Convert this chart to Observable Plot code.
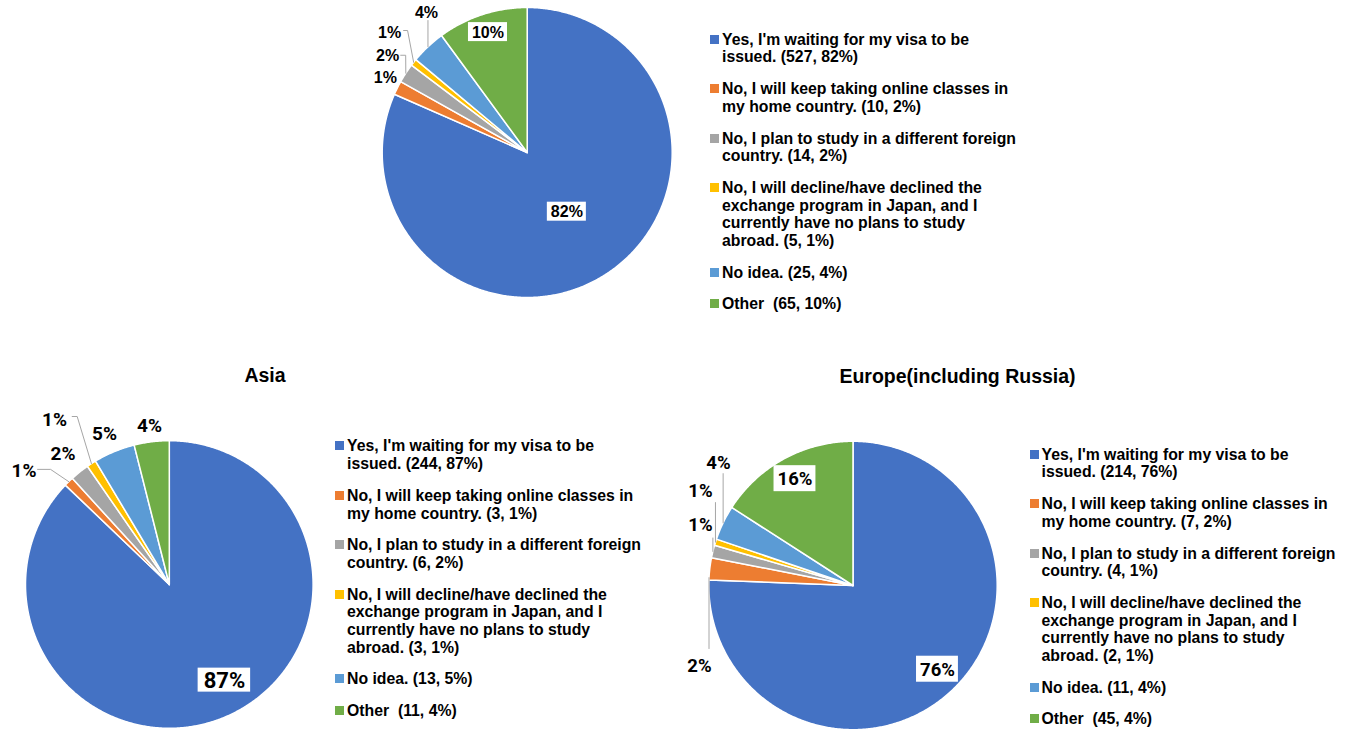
<!DOCTYPE html>
<html><head><meta charset="utf-8">
<script src="https://cdn.jsdelivr.net/npm/d3@7"></script>
<script src="https://cdn.jsdelivr.net/npm/@observablehq/plot@0.6"></script>
<style>
body{margin:0;background:#fff;}
#page{position:relative;width:1349px;height:733px;overflow:hidden;font-family:"Liberation Sans",Arial,sans-serif;color:#000;}
.pie{position:absolute;}
.legend{position:absolute;width:306px;font-weight:bold;font-size:15.8px;line-height:17.7px;}
.legend .item{position:relative;padding-left:12px;margin-bottom:14px;}
.legend .sw{position:absolute;left:0;top:4px;width:9px;height:9px;}
.title{position:absolute;font-weight:bold;font-size:19.5px;line-height:22px;transform:translateX(-50%);white-space:nowrap;}
</style>
</head><body>
<div id="page"></div>
<script>
// ---------- data ----------
const categories = [
  "Yes, I'm waiting for my visa to be issued.",
  "No, I will keep taking online classes in my home country.",
  "No, I plan to study in a different foreign country.",
  "No, I will decline/have declined the exchange program in Japan, and I currently have no plans to study abroad.",
  "No idea.",
  "Other\u00a0"
];
const colors = ["#4472C4", "#ED7D31", "#A5A5A5", "#FFC000", "#5B9BD5", "#70AD47"];

const allCounts = [527, 10, 14, 5, 25, 65];
const allLegendPct = ["82%", "2%", "2%", "1%", "4%", "10%"];
const allSliceLabels = ["82%", "1%", "2%", "1%", "4%", "10%"];

const asiaTitle = "Asia";
const asiaCounts = [244, 3, 6, 3, 13, 11];
const asiaLegendPct = ["87%", "1%", "2%", "1%", "5%", "4%"];
const asiaSliceLabels = ["87%", "1%", "2%", "1%", "5%", "4%"];

const europeTitle = "Europe(including Russia)";
const europeCounts = [214, 7, 4, 2, 11, 45];
const europeLegendPct = ["76%", "2%", "1%", "1%", "4%", "4%"];
const europeSliceLabels = ["76%", "2%", "1%", "1%", "4%", "16%"];

// ---------- helpers ----------
const page = document.getElementById("page");
const cnv = document.createElement("canvas").getContext("2d");
function textW(t, font) { cnv.font = font; return cnv.measureText(t).width; }

function piePlot(o) {
  const {counts, labels, cfg, R, cx, cy, width, height, left, top, family, size, bigSize, padX, boxH} = o;
  const arcs = d3.pie().sort(null).value(d => d)(counts);
  const slices = [];
  arcs.forEach((a, i) => {
    const n = Math.max(3, Math.ceil((a.endAngle - a.startAngle) / 0.008));
    slices.push({cat: categories[i], x: 0, y: 0});
    for (let j = 0; j <= n; j++) {
      const t = a.startAngle + (a.endAngle - a.startAngle) * j / n;
      slices.push({cat: categories[i], x: Math.sin(t), y: Math.cos(t)});
    }
    slices.push({cat: categories[i], x: 0, y: 0});
  });
  const toData = (px, py) => ({x: (px - cx) / R, y: (cy - py) / R});
  const texts = [], boxes = [], leaders = [];
  arcs.forEach((a, i) => {
    const c = cfg[i];
    const mid = (a.startAngle + a.endAngle) / 2;
    const lx = cx + Math.sin(mid) * c.r * R + (c.dx || 0);
    const ly = cy - Math.cos(mid) * c.r * R + (c.dy || 0);
    const fs = c.big ? bigSize : size;
    const p = toData(lx, ly);
    texts.push({...p, text: labels[i], big: !!c.big});
    if (c.box) {
      const w = textW(labels[i], `bold ${fs}px ${family}`) + 2 * (c.big ? padX + 1.5 : padX);
      const h = c.big ? boxH + 3 : boxH;
      const p1 = toData(lx - w / 2, ly - h / 2 - 0.5), p2 = toData(lx + w / 2, ly + h / 2 - 0.5);
      boxes.push({x1: p1.x, x2: p2.x, y1: p1.y, y2: p2.y});
    }
    if (c.leader) {
      const t = c.t == null ? 0.5 : c.t;
      const an = a.startAngle + (a.endAngle - a.startAngle) * t;
      const ax = cx + Math.sin(an) * R, ay = cy - Math.cos(an) * R;
      let pts;
      if (c.leader.type === "h") {
        pts = [[ax, ay], [lx + c.leader.e1, ly + c.leader.yo], [lx + c.leader.e2, ly + c.leader.yo]];
      } else {
        pts = [[ax, ay], [ax, ly + c.leader.end]];
      }
      pts.forEach(([px, py]) => leaders.push({k: i, ...toData(px, py)}));
    }
  });
  const big = texts.filter(d => d.big);
  const small = texts.filter(d => !d.big);
  const plot = Plot.plot({
    width, height,
    margin: 0,
    style: {background: "transparent", overflow: "visible"},
    x: {domain: [-1, 1], range: [cx - R, cx + R], axis: null},
    y: {domain: [-1, 1], range: [cy + R, cy - R], axis: null},
    color: {domain: categories, range: colors},
    marks: [
      Plot.line(slices, {x: "x", y: "y", z: "cat", fill: "cat", stroke: "white", strokeWidth: 1.5, strokeLinejoin: "round"}),
      Plot.line(leaders, {x: "x", y: "y", z: "k", stroke: "#A6A6A6", strokeWidth: 1}),
      Plot.rect(boxes, {x1: "x1", x2: "x2", y1: "y1", y2: "y2", fill: "white"}),
      Plot.text(small, {x: "x", y: "y", text: "text", fontFamily: family, fontSize: size, fontWeight: "bold", fill: "black"}),
      Plot.text(big, {x: "x", y: "y", text: "text", fontFamily: family, fontSize: bigSize, fontWeight: "bold", fill: "black"})
    ]
  });
  plot.classList.add("pie");
  plot.style.left = left + "px";
  plot.style.top = top + "px";
  page.appendChild(plot);
}

function legend(counts, pcts, left, top) {
  const div = document.createElement("div");
  div.className = "legend";
  div.style.left = left + "px";
  div.style.top = top + "px";
  categories.forEach((c, i) => {
    const it = document.createElement("div");
    it.className = "item";
    const sw = document.createElement("span");
    sw.className = "sw";
    sw.style.background = colors[i];
    it.appendChild(sw);
    it.appendChild(document.createTextNode(`${c} (${counts[i]}, ${pcts[i]})`));
    div.appendChild(it);
  });
  page.appendChild(div);
}

function title(t, x, top) {
  const d = document.createElement("div");
  d.className = "title";
  d.style.left = x + "px";
  d.style.top = top + "px";
  d.textContent = t;
  page.appendChild(d);
}

// ---------- overall pie ----------
piePlot({
  counts: allCounts, labels: allSliceLabels, R: 145, cx: 186.7, cy: 152, width: 360, height: 310, left: 340, top: 0,
  family: '"Liberation Sans", Arial, sans-serif', size: 16, bigSize: 16, padX: 3.5, boxH: 19,
  cfg: [
    {r: 0.5, dx: 0, dy: -1, box: true},
    {r: 1.1, dx: 1, dy: -4},
    {r: 1.1, dx: -6, dy: -9, leader: {type: "h", e1: 18, e2: 13, yo: -1}},
    {r: 1.1, dx: -12.7, dy: -20.8, leader: {type: "h", e1: 18, e2: 14, yo: -2}},
    {r: 1.1, dx: 8.5, dy: -23.7, leader: {type: "v", end: 8}},
    {r: 0.87, dx: 0, dy: 0, box: true}
  ]
});
legend(allCounts, allLegendPct, 710, 30.7);

// ---------- Asia ----------
title(asiaTitle, 265, 364.3);
piePlot({
  counts: asiaCounts, labels: asiaSliceLabels, R: 143.8, cx: 168.8, cy: 194, width: 320, height: 343, left: 0, top: 390,
  family: "Roboto, sans-serif", size: 19, bigSize: 22, padX: 4, boxH: 21,
  cfg: [
    {r: 0.78, dx: 11, dy: -7, box: true, big: true},
    {r: 1, dx: -44.7, dy: -10.3, leader: {type: "h", e1: 26.5, e2: 13.5, yo: -2}},
    {r: 1.12, dx: -5.8, dy: -5.1},
    {r: 1.12, dx: -27.6, dy: -29.6, leader: {type: "h", e1: 22.7, e2: 17.7, yo: -3}},
    {r: 1.12, dx: -3.2, dy: -2.2},
    {r: 1.12, dx: 0, dy: 1}
  ]
});
legend(asiaCounts, asiaLegendPct, 335, 437.4);

// ---------- Europe ----------
title(europeTitle, 957.5, 365.3);
piePlot({
  counts: europeCounts, labels: europeSliceLabels, R: 144.2, cx: 172.5, cy: 195, width: 330, height: 343, left: 680, top: 390,
  family: "Roboto, sans-serif", size: 18.5, bigSize: 18.5, padX: 3.5, boxH: 26,
  cfg: [
    {r: 0.82, dx: 2.5, dy: -1, box: true},
    {r: 1, dx: -10.3, dy: 97.8, t: 0.1, leader: {type: "v", end: -18}},
    {r: 1, dx: -12.4, dy: -26.4, leader: {type: "v", end: 13}},
    {r: 1, dx: -15, dy: -50.6, leader: {type: "v", end: 11}},
    {r: 1, dx: -4.7, dy: -60.2, leader: {type: "v", end: 11}},
    {r: 0.84, dx: 0, dy: 0, box: true}
  ]
});
legend(europeCounts, europeLegendPct, 1029.5, 445.7);
</script>
</body></html>
